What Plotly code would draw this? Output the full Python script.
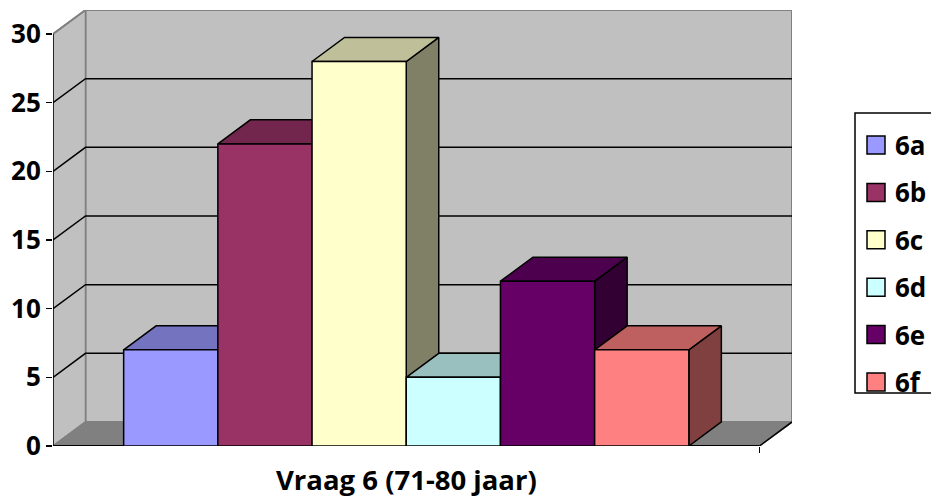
import plotly.graph_objects as go

# ---- data ----
categories = ["6a", "6b", "6c", "6d", "6e", "6f"]
values = [7, 22, 28, 5, 12, 7]
front_colors = ["#9999FF", "#993366", "#FFFFCC", "#CCFFFF", "#660066", "#FF8080"]
top_colors = ["#7373BF", "#73264D", "#BFBF99", "#99BFBF", "#4D004D", "#BF6060"]
side_colors = ["#4D4D80", "#4D1A33", "#808066", "#668080", "#330033", "#804040"]
y_ticks = [0, 5, 10, 15, 20, 25, 30]
x_title = "Vraag 6 (71-80 jaar)"

# ---- 3D oblique geometry (in data units) ----
Y_MAX = 30
GAP = 0.75          # gap on each side of the cluster (bar width = 1)
DX = 0.345          # depth offset along x
DY = 1.75           # depth offset along y
X_END = GAP * 2 + len(values)

# ---- figure layout (pixels) ----
W, H = 931, 502
ML, MR, MT, MB = 53, 139, 10, 56
PW, PH = W - ML - MR, H - MT - MB

FONT = "Open Sans"
fig = go.Figure()


def px_x(fx):
    return (fx - ML) / PW


def px_y(fy):
    return (H - MB - fy) / PH


def poly(xs, ys, fill, line_color="black", width=1.5):
    fig.add_trace(go.Scatter(
        x=xs + [xs[0]], y=ys + [ys[0]], mode="lines", fill="toself",
        fillcolor=fill, line=dict(color=line_color, width=width),
        hoverinfo="skip", showlegend=False))


def line(xs, ys, color="black", width=1.5):
    fig.add_trace(go.Scatter(
        x=xs, y=ys, mode="lines", line=dict(color=color, width=width),
        hoverinfo="skip", showlegend=False))


# back wall
poly([DX, X_END + DX, X_END + DX, DX], [DY, DY, Y_MAX + DY, Y_MAX + DY],
     "#C0C0C0", "#808080", 2)
# left wall
poly([0, DX, DX, 0], [0, DY, Y_MAX + DY, Y_MAX], "#C0C0C0", "#808080", 1.5)
# floor
poly([0, X_END, X_END + DX, DX], [0, 0, DY, DY], "#808080", "#808080", 1.5)
line([X_END, X_END + DX], [0, DY], "black", 1.5)

# gridlines
gx, gy = [], []
for v in y_ticks[1:-1]:
    gx += [0, DX, X_END + DX, None]
    gy += [v, v + DY, v + DY, None]
line(gx, gy, "black", 1.5)
line([0, DX, X_END + DX], [Y_MAX, Y_MAX + DY, Y_MAX + DY], "#808080", 2)

# front axis lines
line([0, 0], [0, Y_MAX], "black", 1.5)
line([0, X_END], [0, 0], "black", 2)

# bars
for i, v in enumerate(values):
    x0 = GAP + i
    x1 = x0 + 1
    poly([x1, x1 + DX, x1 + DX, x1], [0, DY, v + DY, v], side_colors[i])
    poly([x0, x1, x1 + DX, x0 + DX], [v, v, v + DY, v + DY], top_colors[i])
    poly([x0, x1, x1, x0], [0, 0, v, v], front_colors[i])

# ---- legend (box runs off the right edge, like the original) ----
LEG_LEFT, LEG_TOP, LEG_BOTTOM = 855, 113, 393
ITEM_Y0, ITEM_STEP, SQ = 145, 47.4, 18
fig.add_shape(type="rect", xref="paper", yref="paper",
              x0=px_x(LEG_LEFT), x1=px_x(W + 30),
              y0=px_y(LEG_BOTTOM), y1=px_y(LEG_TOP),
              line=dict(color="black", width=1.5), fillcolor="white")
for i, name in enumerate(categories):
    cy = ITEM_Y0 + i * ITEM_STEP
    fig.add_shape(type="rect", xref="paper", yref="paper",
                  x0=px_x(867), x1=px_x(867 + SQ),
                  y0=px_y(cy + SQ / 2), y1=px_y(cy - SQ / 2),
                  line=dict(color="black", width=1.5),
                  fillcolor=front_colors[i])
    fig.add_annotation(x=px_x(893), y=px_y(cy), xref="paper", yref="paper",
                       xanchor="left", yanchor="middle", showarrow=False,
                       text="<b>" + name + "</b>",
                       font=dict(family=FONT, size=26, color="black"))

fig.add_annotation(
    x=X_END / 2, y=0, xref="x", yref="paper", yanchor="middle",
    yshift=-33, text="<b>" + x_title + "</b>", showarrow=False,
    font=dict(family=FONT, size=27.5, color="black"))

fig.update_layout(
    width=W, height=H,
    margin=dict(l=ML, r=MR, t=MT, b=MB, autoexpand=False),
    paper_bgcolor="white", plot_bgcolor="white",
    font=dict(family=FONT, color="black"),
    showlegend=False,
    xaxis=dict(range=[0, X_END + DX], showgrid=False, zeroline=False,
               showline=False, tickvals=[X_END], ticks="outside",
               ticklen=6, tickcolor="black", tickwidth=1.5,
               showticklabels=False, fixedrange=True),
    yaxis=dict(range=[0, Y_MAX + DY], showgrid=False, zeroline=False,
               showline=False, tickvals=y_ticks, ticks="outside",
               ticklen=6, tickcolor="black", tickwidth=1.5,
               tickfont=dict(family=FONT, size=26, color="black",
                             weight="bold"),
               fixedrange=True),
)

fig.write_html(
    "out.html",
    config={"displayModeBar": False, "staticPlot": True},
    post_script="document.body.style.margin='0';"
                "document.documentElement.style.overflow='hidden';")
